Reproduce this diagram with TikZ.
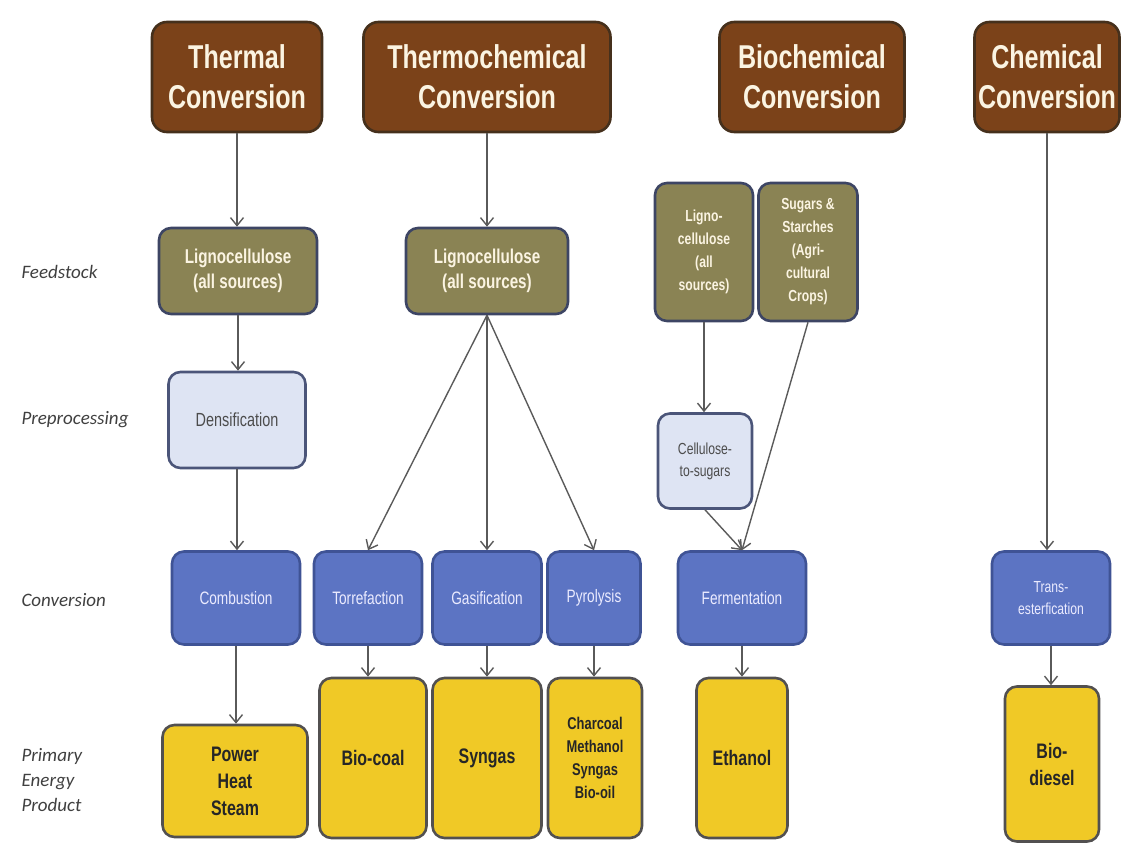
\documentclass[tikz,border=0pt]{standalone}
\usepackage{fontspec}
\setmainfont{Liberation Sans}
\newfontfamily\boxfont[FakeStretch=0.76]{Liberation Sans}
\newfontfamily\rowfont{Carlito}
\usepackage{tikz}
\usetikzlibrary{arrows.meta}
\definecolor{convbrown}{HTML}{7B4219}
\definecolor{convedge}{HTML}{45301C}
\definecolor{feedolive}{HTML}{8A8354}
\definecolor{feededge}{HTML}{3D4564}
\definecolor{prepale}{HTML}{DEE4F3}
\definecolor{prepedge}{HTML}{4B5579}
\definecolor{procblue}{HTML}{5C74C3}
\definecolor{procedge}{HTML}{3F5395}
\definecolor{prodyellow}{HTML}{F0C926}
\definecolor{prodedge}{HTML}{525050}
\definecolor{cream}{HTML}{FBF4E2}
\definecolor{flowgray}{HTML}{5A5A5A}
\tikzset{
  dims/.style 2 args={minimum width=#1,minimum height=#2},
  stage/.style={rounded corners=12pt,line width=2.6pt,align=center,inner sep=1pt},
  pathway/.style={stage,rounded corners=15pt,fill=convbrown,draw=convedge,text=cream,font=\boxfont\bfseries\fontsize{33}{40}\selectfont},
  feed/.style={stage,fill=feedolive,draw=feededge,text=cream,font=\boxfont\bfseries\fontsize{20}{25}\selectfont},
  feedsmall/.style={feed,font=\boxfont\bfseries\fontsize{16}{23}\selectfont},
  prep/.style={stage,fill=prepale,draw=prepedge,text=black!70,font=\boxfont\fontsize{19}{23}\selectfont},
  process/.style={stage,fill=procblue,draw=procedge,text=white!92!blue,font=\boxfont\fontsize{18}{22}\selectfont},
  product/.style={stage,fill=prodyellow,draw=prodedge,text=black!85,font=\boxfont\bfseries\fontsize{21}{27}\selectfont},
  rowlabel/.style={anchor=west,align=left,text=black!75,font=\rowfont\itshape\fontsize{19}{25}\selectfont},
  flow/.style={-{Straight Barb[length=8pt,width=13pt]},flowgray,line width=1.4pt}
}
\begin{document}
\begin{tikzpicture}[x=1pt,y=-1pt]
\useasboundingbox (0,0) rectangle (1122,848);
% pathways
\node[pathway,dims={170pt}{110pt}] (thermal) at (237,77) {Thermal\\Conversion};
\node[pathway,dims={247pt}{110pt}] (thermochem) at (487,77) {Thermochemical\\Conversion};
\node[pathway,dims={185pt}{110pt}] (biochem) at (812,77) {Biochemical\\Conversion};
\node[pathway,dims={145pt}{110pt}] (chemical) at (1047,77) {Chemical\\Conversion};
% row labels
\node[rowlabel] (lfeed) at (18,272) {Feedstock};
\node[rowlabel] (lprep) at (18,420) {Preprocessing};
\node[rowlabel] (lconv) at (18,600) {Conversion};
\node[rowlabel] (lprod) at (18,780) {Primary\\Energy\\Product};
% feedstock
\node[feed,dims={158pt}{86pt}] (lignoA) at (238,271) {Lignocellulose\\(all sources)};
\node[feed,dims={162pt}{86pt}] (lignoB) at (487,271) {Lignocellulose\\(all sources)};
\node[feedsmall,dims={98pt}{138pt}] (lignoC) at (704,252) {Ligno-\\cellulose\\(all\\sources)};
\node[feedsmall,dims={99pt}{138pt}] (sugars) at (808,252) {Sugars \&\\Starches\\(Agri-\\cultural\\Crops)};
% preprocessing
\node[prep,dims={137pt}{96pt}] (densif) at (237,420) {Densification};
\node[prep,dims={94pt}{95pt},font=\boxfont\fontsize{16}{22}\selectfont] (cellsug) at (705,461) {Cellulose-\\to-sugars};
% conversion
\node[process,dims={128pt}{93pt}] (combust) at (236,598) {Combustion};
\node[process,dims={108pt}{93pt}] (torref) at (368,598) {Torrefaction};
\node[process,dims={109pt}{93pt}] (gasif) at (487,598) {Gasification};
\node[process,dims={93pt}{93pt}] (pyrol) at (594,598) {Pyrolysis};
\node[process,dims={128pt}{93pt}] (ferment) at (742,598) {Fermentation};
\node[process,dims={118pt}{93pt},font=\boxfont\fontsize{16}{22}\selectfont] (trans) at (1051,598) {Trans-\\esterfication};
% products
\node[product,dims={145pt}{112pt}] (power) at (235,781) {Power\\Heat\\Steam};
\node[product,dims={107pt}{160pt}] (biocoal) at (373,758) {Bio-coal};
\node[product,dims={109pt}{160pt}] (syngas) at (487,758) {Syngas};
\node[product,dims={94pt}{160pt},font=\boxfont\bfseries\fontsize{17}{23}\selectfont] (charcoal) at (595,758) {Charcoal\\Methanol\\Syngas\\Bio-oil};
\node[product,dims={91pt}{160pt}] (ethanol) at (742,758) {Ethanol};
\node[product,dims={94pt}{155pt}] (biodiesel) at (1052,764) {Bio-\\diesel};
% connectors
\draw[flow] (thermal.south) -- (thermal.south |- lignoA.north);
\draw[flow] (lignoA.south) -- (lignoA.south |- densif.north);
\draw[flow] (densif.south) -- (densif.south |- combust.north);
\draw[flow] (combust.south) -- (combust.south |- power.north);
\draw[flow] (thermochem) -- (lignoB);
\foreach \dest in {torref,gasif,pyrol}{
  \draw[flow] (lignoB.south) -- (\dest.north);
}
\draw[flow] (torref.south) -- (torref.south |- biocoal.north);
\draw[flow] (gasif) -- (syngas);
\draw[flow] (pyrol.south) -- (pyrol.south |- charcoal.north);
\draw[flow] (lignoC.south) -- (lignoC.south |- cellsug.north);
\draw[flow] (cellsug.south) -- (ferment.north);
\draw[flow] (sugars.south) -- (ferment.north);
\draw[flow] (ferment) -- (ethanol);
\draw[flow] (chemical.south) -- (chemical.south |- trans.north);
\draw[flow] (trans.south) -- (trans.south |- biodiesel.north);
\end{tikzpicture}
\end{document}
